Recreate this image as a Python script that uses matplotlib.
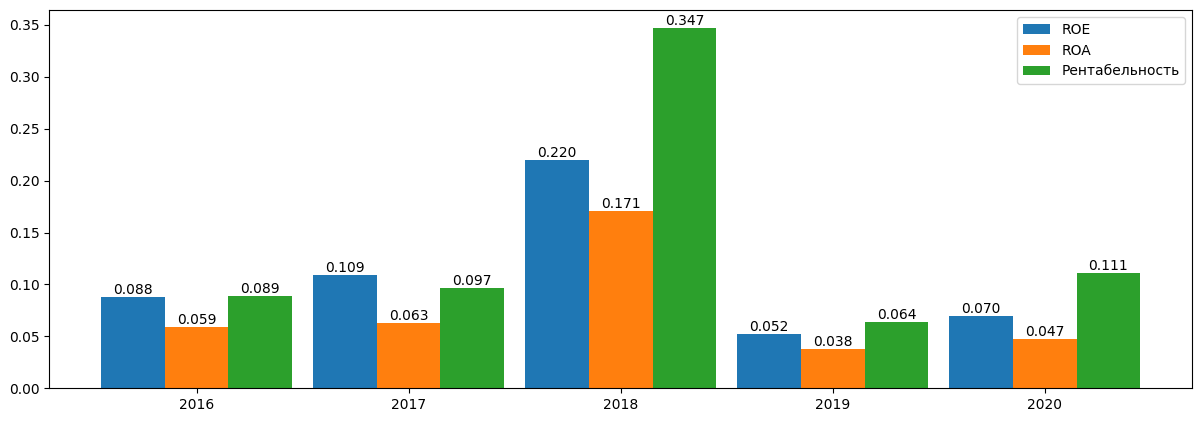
import matplotlib
matplotlib.use("Agg")
import matplotlib.pyplot as plt
import numpy as np

years = ["2016", "2017", "2018", "2019", "2020"]
roe = [0.088, 0.109, 0.220, 0.052, 0.070]
roa = [0.059, 0.063, 0.171, 0.038, 0.047]
rent = [0.089, 0.097, 0.347, 0.064, 0.111]

fig = plt.figure(figsize=(12, 4.21), dpi=100)
ax = fig.add_axes([0.041, 0.078, 0.9525, 0.898])
x = np.arange(len(years))
w = 0.3
b1 = ax.bar(x - w, roe, w, label="ROE", color="#1f77b4")
b2 = ax.bar(x, roa, w, label="ROA", color="#ff7f0e")
b3 = ax.bar(x + w, rent, w, label="Рентабельность", color="#2ca02c")
for b in (b1, b2, b3):
    ax.bar_label(b, fmt="%.3f")
ax.set_xticks(x)
ax.set_xticklabels(years)
ax.legend(loc="upper right")
fig.savefig("out.png", dpi=100)
